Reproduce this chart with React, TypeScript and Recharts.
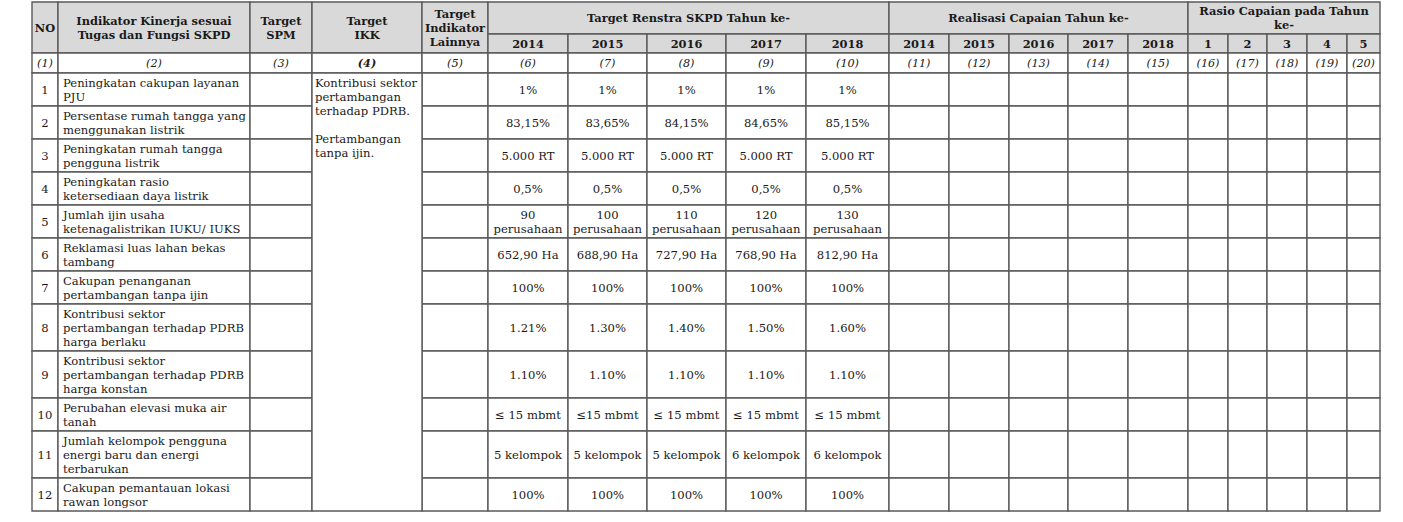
import { Layer, Rectangle, Surface, Text } from "recharts"

// table content
const headMain = ["NO", "Indikator Kinerja sesuai\nTugas dan Fungsi SKPD", "Target\nSPM", "Target\nIKK", "Target\nIndikator\nLainnya"]
const groupTitles = ["Target Renstra SKPD Tahun ke-", "Realisasi Capaian Tahun ke-", "Rasio Capaian pada Tahun\nke-"]
const years = ["2014", "2015", "2016", "2017", "2018"]
const rasioYears = ["1", "2", "3", "4", "5"]
const colNumbers = ["(1)", "(2)", "(3)", "(4)", "(5)", "(6)", "(7)", "(8)", "(9)", "(10)", "(11)", "(12)", "(13)", "(14)", "(15)", "(16)", "(17)", "(18)", "(19)", "(20)"]

const indicators = [
  "Peningkatan cakupan layanan\nPJU",
  "Persentase rumah tangga yang\nmenggunakan listrik",
  "Peningkatan rumah tangga\npengguna listrik",
  "Peningkatan rasio\nketersediaan daya listrik",
  "Jumlah ijin usaha\nketenagalistrikan IUKU/ IUKS",
  "Reklamasi luas lahan bekas\ntambang",
  "Cakupan penanganan\npertambangan tanpa ijin",
  "Kontribusi sektor\npertambangan terhadap PDRB\nharga berlaku",
  "Kontribusi sektor\npertambangan terhadap PDRB\nharga konstan",
  "Perubahan elevasi muka air\ntanah",
  "Jumlah kelompok pengguna\nenergi baru dan energi\nterbarukan",
  "Cakupan pemantauan lokasi\nrawan longsor",
]
const ikkText = ["Kontribusi sektor", "pertambangan", "terhadap PDRB.", "", "Pertambangan", "tanpa ijin."]

const target2014 = ["1%", "83,15%", "5.000 RT", "0,5%", "90\nperusahaan", "652,90 Ha", "100%", "1.21%", "1.10%", "≤ 15 mbmt", "5 kelompok", "100%"]
const target2015 = ["1%", "83,65%", "5.000 RT", "0,5%", "100\nperusahaan", "688,90 Ha", "100%", "1.30%", "1.10%", "≤15 mbmt", "5 kelompok", "100%"]
const target2016 = ["1%", "84,15%", "5.000 RT", "0,5%", "110\nperusahaan", "727,90 Ha", "100%", "1.40%", "1.10%", "≤ 15 mbmt", "5 kelompok", "100%"]
const target2017 = ["1%", "84,65%", "5.000 RT", "0,5%", "120\nperusahaan", "768,90 Ha", "100%", "1.50%", "1.10%", "≤ 15 mbmt", "6 kelompok", "100%"]
const target2018 = ["1%", "85,15%", "5.000 RT", "0,5%", "130\nperusahaan", "812,90 Ha", "100%", "1.60%", "1.10%", "≤ 15 mbmt", "6 kelompok", "100%"]

// layout
const X0 = 32
const Y0 = 2
const colWidths = [26, 192, 62, 110, 66, 80, 79, 79, 80, 83, 60, 60, 59, 60, 60, 40, 39, 40, 40, 33]
const HEAD1 = 32
const HEAD2 = 19
const NUMS = 20
const LINE = 14
const FONT = "'DejaVu Serif', serif"
const GRID = "#5a5a5a"
const HEAD_BG = "#d9d9d9"
const INK = "#1a1a1a"

const colX = colWidths.reduce<number[]>((acc, w) => [...acc, acc[acc.length - 1] + w], [X0])
const targets = [target2014, target2015, target2016, target2017, target2018]
const rowHeights = indicators.map((t) => Math.max(2, t.split("\n").length) * LINE + 5)
const dataTop = Y0 + HEAD1 + HEAD2 + NUMS
const rowY = rowHeights.reduce<number[]>((acc, h) => [...acc, acc[acc.length - 1] + h], [dataTop])

type CellProps = {
  c0: number
  c1: number
  y: number
  h: number
  text?: string
  fill?: string
  bold?: boolean
  italic?: boolean
  align?: "middle" | "start"
  size?: number
}

function Cell({ c0, c1, y, h, text = "", fill = "#fff", bold, italic, align = "middle", size = 11.6 }: CellProps) {
  const x = colX[c0]
  const w = colX[c1 + 1] - x
  const lines = text.split("\n")
  const tx = align === "middle" ? x + w / 2 : x + 5
  return (
    <Layer>
      <Rectangle x={x} y={y} width={w} height={h} fill={fill} stroke={GRID} strokeWidth={1.4} />
      {text &&
        lines.map((ln, i) => (
          <Text
            key={i}
            x={tx}
            y={y + h / 2 + (i - (lines.length - 1) / 2) * LINE}
            textAnchor={align}
            verticalAnchor="middle"
            fontFamily={FONT}
            fontSize={size}
            fontWeight={bold ? "bold" : "normal"}
            fontStyle={italic ? "italic" : "normal"}
            fill={INK}
          >
            {ln}
          </Text>
        ))}
    </Layer>
  )
}

export default function App() {
  const totalH = rowY[rowY.length - 1]
  return (
    <div style={{ position: "absolute", left: 0, top: 0, background: "#fff" }}>
      <Surface width={1403} height={522}>
        {/* header */}
        {headMain.map((t, i) => (
          <Cell key={"h" + i} c0={i} c1={i} y={Y0} h={HEAD1 + HEAD2} text={t} fill={HEAD_BG} bold size={11.4} />
        ))}
        {groupTitles.map((t, g) => (
          <Cell key={"g" + g} c0={5 + g * 5} c1={9 + g * 5} y={Y0} h={HEAD1} text={t} fill={HEAD_BG} bold size={11.4} />
        ))}
        {[...years, ...years, ...rasioYears].map((t, i) => (
          <Cell key={"y" + i} c0={5 + i} c1={5 + i} y={Y0 + HEAD1} h={HEAD2} text={t} fill={HEAD_BG} bold size={11.4} />
        ))}
        {colNumbers.map((t, i) => (
          <Cell key={"n" + i} c0={i} c1={i} y={Y0 + HEAD1 + HEAD2} h={NUMS} text={t} italic bold={i === 3} size={11.2} />
        ))}
        {/* body */}
        {indicators.map((t, r) => (
          <Layer key={"r" + r}>
            <Cell c0={0} c1={0} y={rowY[r]} h={rowHeights[r]} text={String(r + 1)} />
            <Cell c0={1} c1={1} y={rowY[r]} h={rowHeights[r]} text={t} align="start" />
            <Cell c0={2} c1={2} y={rowY[r]} h={rowHeights[r]} />
            <Cell c0={4} c1={4} y={rowY[r]} h={rowHeights[r]} />
            {targets.map((vals, k) => (
              <Cell key={"t" + k} c0={5 + k} c1={5 + k} y={rowY[r]} h={rowHeights[r]} text={vals[r]} />
            ))}
            {colWidths.slice(10).map((_, k) => (
              <Cell key={"e" + k} c0={10 + k} c1={10 + k} y={rowY[r]} h={rowHeights[r]} />
            ))}
          </Layer>
        ))}
        <Rectangle x={colX[3]} y={dataTop} width={colWidths[3]} height={totalH - dataTop} fill="#fff" stroke={GRID} strokeWidth={1.4} />
        {ikkText.map((ln, i) => (
          <Text
            key={"ikk" + i}
            x={colX[3] + 3}
            y={dataTop + 10 + i * LINE}
            textAnchor="start"
            verticalAnchor="middle"
            fontFamily={FONT}
            fontSize={11.6}
            fill={INK}
          >
            {ln}
          </Text>
        ))}
      </Surface>
    </div>
  )
}
